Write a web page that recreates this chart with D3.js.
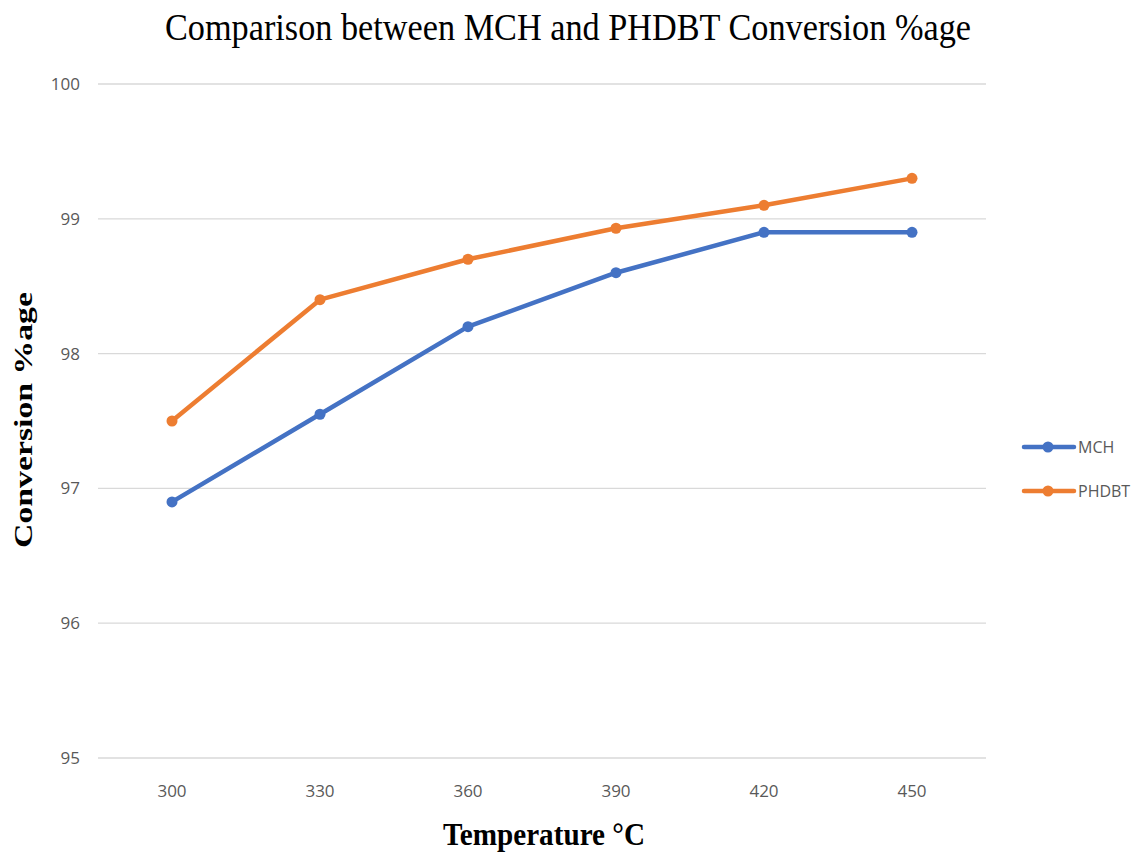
<!DOCTYPE html>
<html>
<head>
<meta charset="utf-8">
<script src="https://cdn.jsdelivr.net/npm/d3@7"></script>
<style>
  body { margin: 0; background: #fff; }
</style>
</head>
<body>
<div id="chart"></div>
<script>
// data
var temps = ["300", "330", "360", "390", "420", "450"];
var mchValues = [96.9, 97.55, 98.2, 98.6, 98.9, 98.9];
var phdbtValues = [97.5, 98.4, 98.7, 98.93, 99.1, 99.3];
var seriesNames = ["MCH", "PHDBT"];
var seriesColors = ["#4472C4", "#ED7D31"];
var yTicks = [95, 96, 97, 98, 99, 100];

var W = 1144, H = 853;
var margin = {top: 84, right: 158, bottom: 95, left: 98},
    width = W - margin.left - margin.right,
    height = H - margin.top - margin.bottom;

var svg = d3.select("#chart").append("svg")
  .attr("width", W).attr("height", H);

var g = svg.append("g")
  .attr("transform", "translate(" + margin.left + "," + margin.top + ")");

var x = d3.scaleBand().domain(temps).range([0, width]);
var y = d3.scaleLinear().domain([95, 100]).range([height, 0]);

// gridlines
g.append("g").selectAll("line").data(yTicks).enter().append("line")
  .attr("x1", 0).attr("x2", width)
  .attr("y1", function(d){ return y(d); })
  .attr("y2", function(d){ return y(d); })
  .attr("stroke", "#d9d9d9").attr("stroke-width", 1.3);

// y ticks
var yAxis = g.append("g").call(d3.axisLeft(y).tickValues(yTicks).tickFormat(d3.format("d")).tickSize(0).tickPadding(18));
yAxis.select(".domain").remove();
yAxis.selectAll("text").attr("font-family", "'Open Sans', sans-serif")
  .attr("font-size", 17).attr("fill", "#595959");

// x ticks
var xAxis = g.append("g").attr("transform", "translate(0," + height + ")")
  .call(d3.axisBottom(x).tickSize(0).tickPadding(27));
xAxis.select(".domain").remove();
xAxis.selectAll("text").attr("font-family", "'Open Sans', sans-serif")
  .attr("font-size", 17).attr("fill", "#595959");

var series = [mchValues, phdbtValues];
var line = d3.line()
  .x(function(d, i){ return x(temps[i]) + x.bandwidth() / 2; })
  .y(function(d){ return y(d); });

series.forEach(function(vals, k){
  g.append("path").datum(vals)
    .attr("d", line)
    .attr("fill", "none")
    .attr("stroke", seriesColors[k])
    .attr("stroke-width", 4.5)
    .attr("stroke-linejoin", "round")
    .attr("stroke-linecap", "round");
  g.append("g").selectAll("circle").data(vals).enter().append("circle")
    .attr("cx", function(d, i){ return x(temps[i]) + x.bandwidth() / 2; })
    .attr("cy", function(d){ return y(d); })
    .attr("r", 5.5)
    .attr("fill", seriesColors[k]);
});

// legend
var legend = svg.append("g").attr("transform", "translate(1024,447)");
seriesNames.forEach(function(name, k){
  var lg = legend.append("g").attr("transform", "translate(0," + (k * 44) + ")");
  lg.append("line").attr("x1", 0).attr("x2", 50).attr("y1", 0).attr("y2", 0)
    .attr("stroke", seriesColors[k]).attr("stroke-width", 4.5).attr("stroke-linecap", "round");
  lg.append("circle").attr("cx", 24).attr("cy", 0).attr("r", 5.5).attr("fill", seriesColors[k]);
  lg.append("text").attr("x", 54).attr("y", 6)
    .attr("font-family", "'Open Sans', sans-serif").attr("font-size", 16)
    .attr("fill", "#595959").text(name);
});

// title
svg.append("text")
  .attr("x", 568).attr("y", 40)
  .attr("text-anchor", "middle")
  .attr("font-family", "'Liberation Serif', 'Times New Roman', serif")
  .attr("font-size", 38)
  .attr("textLength", 806).attr("lengthAdjust", "spacingAndGlyphs")
  .attr("fill", "#000")
  .text("Comparison between MCH and PHDBT Conversion %age");

// axis labels
svg.append("text")
  .attr("x", 544).attr("y", 845)
  .attr("text-anchor", "middle")
  .attr("font-family", "'Liberation Serif', 'Times New Roman', serif")
  .attr("font-weight", "bold").attr("font-size", 32)
  .attr("textLength", 202).attr("lengthAdjust", "spacingAndGlyphs")
  .text("Temperature \u00B0C");

svg.append("text")
  .attr("transform", "translate(32,420) rotate(-90)")
  .attr("text-anchor", "middle")
  .attr("font-family", "'Liberation Serif', 'Times New Roman', serif")
  .attr("font-weight", "bold").attr("font-size", 26)
  .attr("textLength", 256).attr("lengthAdjust", "spacingAndGlyphs")
  .text("Conversion  %age");
</script>
</body>
</html>
